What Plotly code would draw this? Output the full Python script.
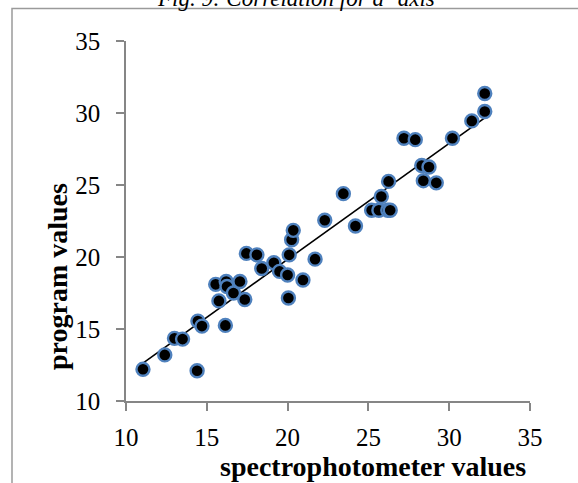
import numpy as np
import plotly.graph_objects as go

spectro = [11.05, 12.4, 13.0, 13.5, 14.4, 14.45, 14.7, 16.15, 15.75, 15.55,
           16.2, 16.25, 16.65, 17.05, 17.35, 17.45, 18.1, 18.4, 19.15, 19.5,
           20.0, 20.1, 20.05, 20.25, 20.35, 20.95, 21.7, 22.3, 23.45, 24.2,
           25.2, 25.65, 26.2, 26.35, 25.8, 26.25, 27.2, 27.9, 28.3, 28.75,
           28.4, 29.2, 30.2, 31.4, 32.2, 32.2]
program = [12.2, 13.2, 14.35, 14.3, 12.1, 15.55, 15.2, 15.25, 16.95, 18.1,
           18.3, 17.95, 17.5, 18.3, 17.05, 20.25, 20.15, 19.2, 19.6, 19.0,
           18.75, 20.15, 17.15, 21.2, 21.85, 18.4, 19.85, 22.55, 24.4, 22.15,
           23.25, 23.25, 23.25, 23.25, 24.2, 25.25, 28.25, 28.15, 26.35, 26.25,
           25.3, 25.15, 28.25, 29.45, 30.1, 31.35]
tick_vals = [10, 15, 20, 25, 30, 35]

title_text = "<i>Fig. 9: Correlation for a<sup>*</sup> axis</i>"
x_title = "spectrophotometer values"
y_title = "program values"

W, H = 578, 483
ML, MR, MT, MB = 126, 48, 41, 82
PW = W - ML - MR
PH = H - MT - MB

def px(xp):
    return (xp - ML) / PW

def py(yp):
    return (H - MB - yp) / PH

slope, intercept = np.polyfit(spectro, program, 1)
xs = np.array([min(spectro), max(spectro)])
ys = slope * xs + intercept

axis_gray = "#868686"
serif = "Liberation Serif"

fig = go.Figure()
fig.add_trace(go.Scatter(x=xs, y=ys, mode="lines",
                         line=dict(color="black", width=1.6),
                         hoverinfo="skip", showlegend=False))
fig.add_trace(go.Scatter(x=spectro, y=program, mode="markers",
                         marker=dict(color="black", size=13,
                                     line=dict(color="#4F81BD", width=2.4)),
                         showlegend=False))

axis_common = dict(range=[10, 35], tickvals=tick_vals, showgrid=False,
                   zeroline=False, showline=True, linecolor=axis_gray,
                   linewidth=1.6, ticks="outside", ticklen=8,
                   tickcolor=axis_gray, tickwidth=1.6,
                   tickfont=dict(family=serif, size=25, color="black"))
fig.update_xaxes(**axis_common, ticklabelstandoff=5)
fig.update_yaxes(**axis_common, ticklabelstandoff=11)

fig.add_annotation(x=px(373), y=py(466), xref="paper", yref="paper",
                   text="<b>%s</b>" % x_title, showarrow=False,
                   font=dict(family=serif, size=28, color="black"),
                   xanchor="center", yanchor="middle")
fig.add_annotation(x=px(57), y=py(277), xref="paper", yref="paper",
                   text="<b>%s</b>" % y_title, showarrow=False, textangle=-90,
                   font=dict(family=serif, size=28, color="black"),
                   xanchor="center", yanchor="middle")
fig.add_annotation(x=px(296), y=py(-4), xref="paper", yref="paper",
                   text=title_text, showarrow=False,
                   font=dict(family=serif, size=23, color="black"),
                   xanchor="center", yanchor="middle")

fig.add_shape(type="rect", xref="paper", yref="paper",
              x0=px(12), x1=px(620), y0=py(520), y1=py(8.5),
              line=dict(color="#9a9a9a", width=1.5), layer="below")

fig.update_layout(width=W, height=H,
                  margin=dict(l=ML, r=MR, t=MT, b=MB, pad=0),
                  plot_bgcolor="white", paper_bgcolor="white")

fig.write_html("out.html")
